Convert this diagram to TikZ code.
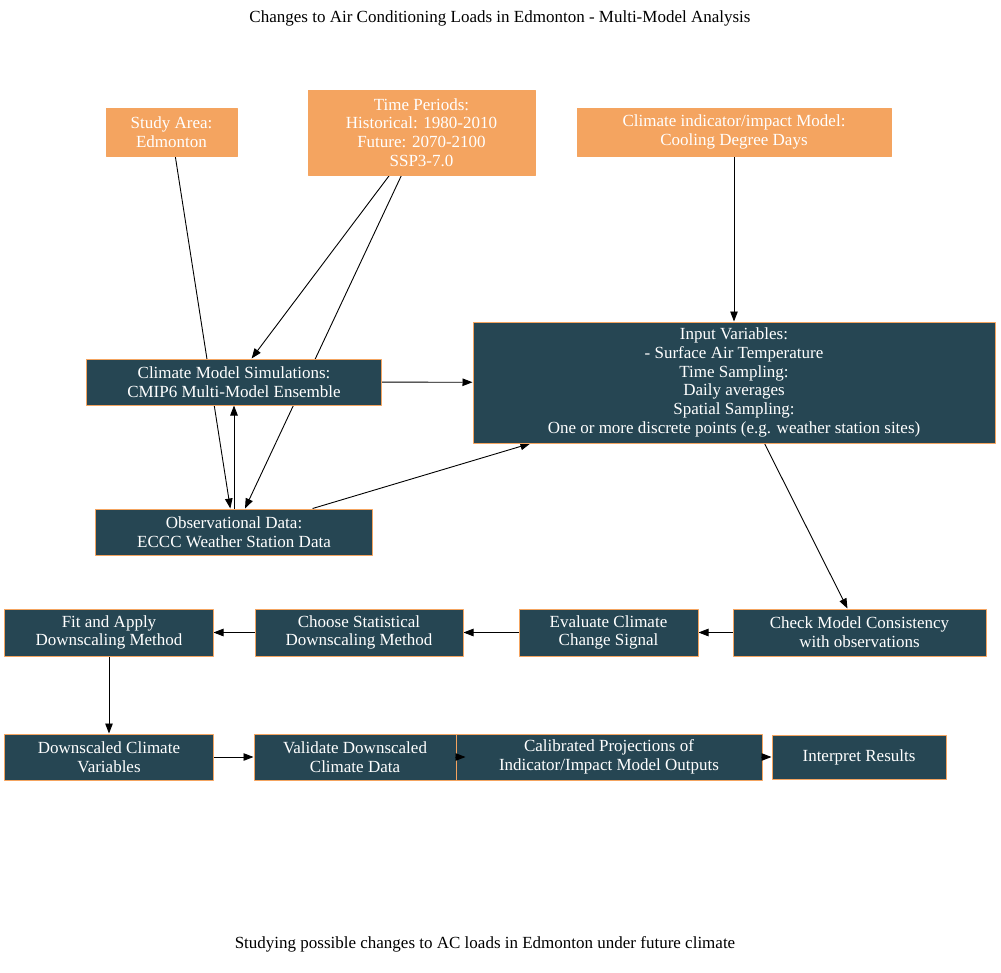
\documentclass[tikz,border=0pt]{standalone}
\usepackage{fontspec}
\setmainfont{Liberation Serif}
\usetikzlibrary{arrows.meta,backgrounds}
\definecolor{sandy}{HTML}{F4A460}
\definecolor{darkteal}{HTML}{264653}
\begin{document}
\begin{tikzpicture}[x=1bp, y=1bp, line cap=round, line join=round,
  every node/.style={font=\fontsize{17bp}{18.8bp}\selectfont, align=center, inner sep=0pt},
  inbox/.style={draw=sandy, fill=sandy, text=white, line width=0.8bp},
  stepbox/.style={draw=sandy, fill=darkteal, text=white, line width=1bp},
  arr/.style={draw=black, line width=0.9bp, -{Triangle[length=10bp,width=7.5bp]}}]
  \useasboundingbox (0,0) rectangle (1001,-973);
  % titles
  \node (title) at (500,-18) {Changes to Air Conditioning Loads in Edmonton - Multi-Model Analysis};
  \node (caption) at (485,-944) {Studying possible changes to AC loads in Edmonton under future climate};
  % inputs
  \node[inbox, minimum width=131bp, minimum height=48bp] (area) at (171.5,-132) {Study Area:\\Edmonton};
  \node[inbox, minimum width=227bp, minimum height=85bp] (periods) at (421.5,-132.5) {Time Periods:\\Historical: 1980-2010\\Future: 2070-2100\\SSP3-7.0};
  \node[inbox, minimum width=314bp, minimum height=48bp] (impact) at (734,-132) {Climate indicator/impact Model:\\Cooling Degree Days};
  % data and variables
  \node[stepbox, minimum width=522bp, minimum height=121bp] (vars) at (734,-382.5) {Input Variables:\\- Surface Air Temperature\\Time Sampling:\\Daily averages\\Spatial Sampling:\\One or more discrete points (e.g. weather station sites)};
  \node[stepbox, minimum width=294bp, minimum height=46bp] (cmip) at (234,-382) {Climate Model Simulations:\\CMIP6 Multi-Model Ensemble};
  \node[stepbox, minimum width=276bp, minimum height=46bp] (obs) at (234,-532) {Observational Data:\\ECCC Weather Station Data};
  % workflow
  \node[stepbox, minimum width=253bp, minimum height=47bp] (check) at (859.5,-632.5) {Check Model Consistency\\with observations};
  \node[stepbox, minimum width=179bp, minimum height=47bp] (signal) at (608.5,-632.5) {Evaluate Climate\\Change Signal};
  \node[stepbox, minimum width=208bp, minimum height=47bp] (choose) at (359,-632.5) {Choose Statistical\\Downscaling Method};
  \node[stepbox, minimum width=208bp, minimum height=47bp] (fit) at (109,-632.5) {Fit and Apply\\Downscaling Method};
  \node[stepbox, minimum width=208bp, minimum height=46bp] (dsvars) at (109,-757) {Downscaled Climate\\Variables};
  \node[stepbox, minimum width=202bp, minimum height=46bp] (valid) at (355,-757) {Validate Downscaled\\Climate Data};
  \node[stepbox, minimum width=306bp, minimum height=46bp] (calib) at (609,-757) {Calibrated Projections of\\Indicator/Impact Model Outputs};
  \node[stepbox, minimum width=174bp, minimum height=44bp] (interp) at (859,-757) {Interpret Results};
  % connectors behind the boxes
  \begin{scope}[on background layer]
    \path[arr] (area) -- (obs);
    \path[arr] (periods) -- (cmip);
    \path[arr] (periods) -- (obs);
    \path[arr] (impact) -- (vars);
    \path[arr] (cmip) -- (vars);
    \path[arr] (obs) -- (cmip);
    \path[arr] (obs) -- (vars);
    \path[arr] (vars) -- (check);
    \path[arr] (check) -- (signal);
    \path[arr] (signal) -- (choose);
    \path[arr] (choose) -- (fit);
    \path[arr] (fit) -- (dsvars);
    \path[arr] (dsvars) -- (valid);
  \end{scope}
  \path[arr] (valid.east) -- ([xshift=10bp]calib.west);
  \path[arr] (calib) -- (interp);
\end{tikzpicture}
\end{document}
